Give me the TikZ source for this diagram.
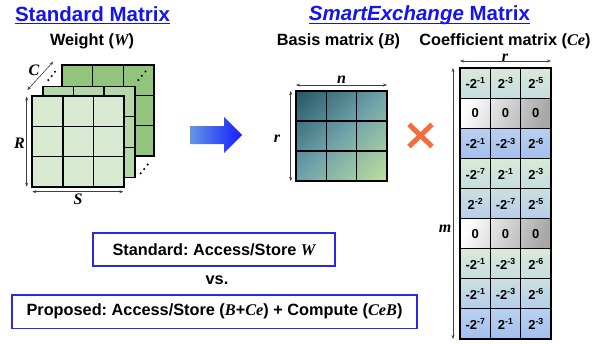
\documentclass[tikz,border=0pt]{standalone}
\usepackage{fontspec}
\setmainfont{Liberation Sans}
\newfontfamily\serfam{Liberation Serif}
\usetikzlibrary{arrows.meta}
\frenchspacing
\newcommand\mv[1]{{\serfam\bfseries\itshape #1}}
\newcommand\pw[2]{#1\raisebox{4.8pt}{\fontsize{8.8}{9}\selectfont #2}}
\definecolor{ttlblue}{RGB}{20,20,240}
\definecolor{boxblue}{RGB}{40,40,235}
\definecolor{lgA}{RGB}{147,196,125}
\definecolor{lgB}{RGB}{182,215,168}
\definecolor{lgC}{RGB}{217,234,211}
\definecolor{bsA}{RGB}{36,88,100}
\definecolor{bsB}{RGB}{112,162,172}
\definecolor{bsC}{RGB}{190,224,158}
\definecolor{gT}{RGB}{218,234,214}
\definecolor{gB}{RGB}{198,221,226}
\definecolor{mT}{RGB}{204,224,224}
\definecolor{mB}{RGB}{180,205,234}
\definecolor{bT}{RGB}{186,208,242}
\definecolor{bB}{RGB}{162,191,236}
\definecolor{zT}{RGB}{252,252,252}
\definecolor{zB}{RGB}{168,168,168}
\definecolor{arrL}{RGB}{100,150,228}
\definecolor{arrR}{RGB}{20,30,255}
\definecolor{crossc}{RGB}{242,110,60}
\tikzset{
  dim/.style={{Stealth[length=4pt,width=3pt]}-{Stealth[length=4pt,width=3pt]}, line width=0.6pt, draw=black!75},
  lbl/.style={font=\fontsize{16}{16}\selectfont\serfam\bfseries\itshape, inner sep=0pt},
  gridline/.style={line width=1.1pt},
  frameline/.style={line width=1.8pt},
  ttl/.style={font=\fontsize{20.5}{22}\selectfont\bfseries, text=ttlblue, inner sep=0pt, anchor=base},
  hdr/.style={font=\fontsize{16.3}{18}\selectfont\bfseries, inner sep=0pt, anchor=base},
  boxnode/.style={draw=boxblue, line width=1.2pt, font=\fontsize{16.3}{18}\selectfont\bfseries, inner sep=0pt},
  celltext/.style={font=\fontsize{13}{14}\selectfont\bfseries, inner sep=0pt},
  pics/layer/.style={code={
    \fill[#1] (0,0) rectangle (92,91);
    \draw[gridline] (30.67,0) -- (30.67,91) (61.33,0) -- (61.33,91)
                    (0,30.33) -- (92,30.33) (0,60.67) -- (92,60.67);
    \draw[frameline] (0,0) rectangle (92,91);
  }}
}
\begin{document}
\begin{tikzpicture}[x=1pt,y=-1pt]
\useasboundingbox (0,0) rectangle (607,343);
\fill[white] (0,0) rectangle (607,343);

% titles
\node[ttl] (t1) at (92.5,21) {Standard Matrix};
\draw[ttlblue,line width=1.3pt] ([yshift=-2.6pt]t1.base west) -- ([yshift=-2.6pt]t1.base east);
\node[ttl] (t2) at (419.5,20.7) {\textit{SmartExchange} Matrix};
\draw[ttlblue,line width=1.3pt] ([yshift=-2.6pt]t2.base west) -- ([yshift=-2.6pt]t2.base east);

\node[hdr] (hw) at (92,45.5) {Weight (\mv{W})};
\node[hdr] (hb) at (338.5,45.7) {Basis matrix (\mv{B})};
\node[hdr] (hc) at (505,45.2) {Coefficient matrix (\mv{Ce})};

% weight layers
\pic at (62,65) {layer=lgA};
\pic at (42.7,86.5) {layer=lgB};
\pic at (32.3,96) {layer=lgC};

% ellipsis dots
\foreach \p in {(48.3,80),(51.7,76),(55,71.7),(138.3,80),(141.8,75.8),(145.5,71.5),(140.7,173.3),(144.2,169),(147.7,164.5)}
  \fill \p circle (1.2pt);

% weight dimensions
\coordinate (rA) at (26.7,96.5);
\coordinate (rB) at (26.7,186.7);
\coordinate (sA) at (32.3,191.7);
\coordinate (sB) at (123.3,191.7);
\coordinate (cA) at (27.3,90);
\coordinate (cB) at (53.3,61.7);
\draw[dim] (rA) -- (rB);
\draw[dim] (sA) -- (sB);
\draw[dim] (cA) -- (cB);
\node[lbl] (lR) at (19.5,143) {R};
\node[lbl] (lS) at (78,199) {S};
\node[lbl] (lC) at (34,70) {C};

% blue arrow
\shade[left color=arrL, right color=arrR] (190,126) -- (224,126) -- (224,117) -- (242,135) -- (224,153) -- (224,144) -- (190,144) -- cycle;

% basis matrix: diagonal gradient in bands
\begin{scope}
\clip (296,91) rectangle (387,181);
\foreach \k in {0,...,59}{
  \pgfmathsetmacro\ua{387+\k*181/60}
  \pgfmathsetmacro\ub{\ua+181/60+0.8}
  \ifnum\k<30
    \pgfmathtruncatemacro\pc{round(100*\k/29.5)}
    \colorlet{bandc}{bsB!\pc!bsA}
  \else
    \pgfmathtruncatemacro\pc{round(100*(\k-29.5)/29.5)}
    \colorlet{bandc}{bsC!\pc!bsB}
  \fi
  \fill[bandc] (\ua-60,60) -- (\ub-60,60) -- (\ub-210,210) -- (\ua-210,210) -- cycle;
}
\end{scope}
\draw[gridline] (326.33,91) -- (326.33,181) (356.67,91) -- (356.67,181) (296,121) -- (387,121) (296,151) -- (387,151);
\draw[frameline] (296,91) rectangle (387,181);
\coordinate (nA) at (296,85);
\coordinate (nB) at (387,85);
\coordinate (brA) at (290.7,91);
\coordinate (brB) at (290.7,181);
\draw[dim] (nA) -- (nB);
\draw[dim] (brA) -- (brB);
\node[lbl] (ln) at (341.5,80) {n};
\node[lbl] (lr1) at (277,138.5) {r};

% cross
\draw[crossc, line width=5pt] (409,124.5) -- (432,146.5) (409,146.5) -- (432,124.5);

% coefficient matrix
\foreach \i/\tc/\bc/\ang in {1/gT/gB/0,2/zT/zB/70,3/bT/bB/0,4/gT/gB/0,5/mT/mB/0,6/zT/zB/70,7/gT/gB/0,8/mT/mB/0,9/bT/bB/0}{
  \pgfmathsetmacro\yt{68+30.11*(\i-1)}
  \shade[top color=\tc, bottom color=\bc, shading angle=\ang] (460,\yt) rectangle (551,\yt+30.11);
}
\foreach \i/\a/\b/\c in {1/\pw{-2}{-1}/\pw{2}{-3}/\pw{2}{-5},
                         2/0/0/0,
                         3/\pw{-2}{-1}/\pw{-2}{-3}/\pw{2}{-6},
                         4/\pw{-2}{-7}/\pw{2}{-1}/\pw{2}{-3},
                         5/\pw{2}{-2}/\pw{-2}{-7}/\pw{2}{-5},
                         6/0/0/0,
                         7/\pw{-2}{-1}/\pw{-2}{-3}/\pw{2}{-6},
                         8/\pw{-2}{-1}/\pw{-2}{-3}/\pw{2}{-6},
                         9/\pw{-2}{-7}/\pw{2}{-1}/\pw{2}{-3}}{
  \pgfmathsetmacro\yc{68+30.11*(\i-1)+15.3}
  \node[celltext] (c\i-1) at (475.2,\yc) {\a};
  \node[celltext] (c\i-2) at (505.5,\yc) {\b};
  \node[celltext] (c\i-3) at (535.8,\yc) {\c};
}
\draw[gridline] (490.33,68) -- (490.33,339) (520.67,68) -- (520.67,339);
\foreach \k in {1,...,8}
  \draw[gridline] (460,68+30.11*\k) -- (551,68+30.11*\k);
\draw[frameline] (460,68) rectangle (551,339);
\coordinate (crA) at (460,61);
\coordinate (crB) at (551,61);
\coordinate (mA) at (453,68);
\coordinate (mB) at (453,339);
\draw[dim] (crA) -- (crB);
\draw[dim] (mA) -- (mB);
\node[lbl] (lr2) at (505,57.6) {r};
\node[lbl] (lm) at (445,229) {m};

% boxes
\node[boxnode, minimum width=242pt, minimum height=33pt] (bstd) at (214,249.5) {Standard: Access/Store \mv{W}};
\node[font=\fontsize{16.3}{18}\selectfont\bfseries, inner sep=0pt] (vs) at (217,280) {vs.};
\node[boxnode, minimum width=405pt, minimum height=33.5pt] (bprop) at (214.5,311.7) {Proposed: Access/Store (\mv{B}+\mv{Ce}) + Compute (\mv{CeB})};
\end{tikzpicture}
\end{document}
